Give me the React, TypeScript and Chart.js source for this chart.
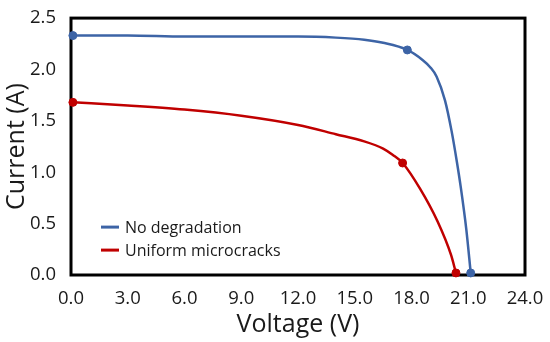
import React, { useEffect, useRef } from "react";
import { Chart, registerables } from "chart.js";

Chart.register(...registerables);

// ---- data ----
const noDegVoltage = [0.1, 3, 6, 9, 12, 14, 15.5, 16.5, 17.78, 18.6, 19.0, 19.33, 19.77, 20.12, 20.4, 20.6, 20.9, 21.13];
const noDegCurrent = [2.33, 2.33, 2.32, 2.32, 2.32, 2.31, 2.29, 2.26, 2.19, 2.09, 2.02, 1.93, 1.7, 1.4, 1.1, 0.86, 0.44, 0.02];
const noDegKeyVoltage = [0.1, 17.78, 21.13];
const noDegKeyCurrent = [2.33, 2.19, 0.02];

const crackVoltage = [0.1, 3, 6, 9, 12, 14, 15.5, 16.5, 17, 17.53, 18.45, 19.38, 20.09, 20.35];
const crackCurrent = [1.68, 1.65, 1.61, 1.55, 1.46, 1.37, 1.3, 1.23, 1.17, 1.09, 0.84, 0.52, 0.195, 0.02];
const crackKeyVoltage = [0.1, 17.53, 20.35];
const crackKeyCurrent = [1.68, 1.09, 0.02];

const seriesLabels = ["No degradation", "Uniform microcracks"];
const xTitle = "Voltage (V)";
const yTitle = "Current (A)";
const xMin = 0, xMax = 24, xStep = 3;
const yMin = 0, yMax = 2.5, yStep = 0.5;

const BLUE = "#3d64a6";
const RED = "#c00000";
const FONT = "'Open Sans', sans-serif";

const zip = (xs: number[], ys: number[]) => xs.map((x, i) => ({ x, y: ys[i] }));

const borderPlugin = {
  id: "frame",
  beforeDatasetsDraw(chart: any) {
    const { ctx, chartArea: a } = chart;
    ctx.save();
    ctx.strokeStyle = "#000";
    ctx.lineWidth = 3;
    ctx.strokeRect(a.left, a.top, a.right - a.left, a.bottom - a.top);
    ctx.restore();
  },
};

const legendPlugin = {
  id: "innerLegend",
  afterDatasetsDraw(chart: any) {
    const { ctx, chartArea: a } = chart;
    const colors = [BLUE, RED];
    ctx.save();
    ctx.font = `16px ${FONT}`;
    ctx.textBaseline = "middle";
    seriesLabels.forEach((lab, i) => {
      const y = a.top + 209 + i * 23;
      const x0 = a.left + 30;
      ctx.strokeStyle = colors[i];
      ctx.lineWidth = 3;
      ctx.beginPath();
      ctx.moveTo(x0, y);
      ctx.lineTo(x0 + 18, y);
      ctx.stroke();
      ctx.fillStyle = "#1a1a1a";
      ctx.fillText(lab, x0 + 24, y + 1);
    });
    ctx.restore();
  },
};

export default function App() {
  const ref = useRef<HTMLCanvasElement | null>(null);
  useEffect(() => {
    document.body.style.margin = "0";
    if (!ref.current) return;
    const chart = new Chart(ref.current, {
      type: "scatter",
      data: {
        datasets: [
          {
            label: seriesLabels[0],
            data: zip(noDegVoltage, noDegCurrent),
            showLine: true,
            borderColor: BLUE,
            borderWidth: 2.5,
            pointRadius: 0,
            cubicInterpolationMode: "monotone",
          },
          {
            label: seriesLabels[1],
            data: zip(crackVoltage, crackCurrent),
            showLine: true,
            borderColor: RED,
            borderWidth: 2.5,
            pointRadius: 0,
            cubicInterpolationMode: "monotone",
          },
          {
            label: seriesLabels[0] + " key points",
            data: zip(noDegKeyVoltage, noDegKeyCurrent),
            showLine: false,
            backgroundColor: BLUE,
            borderColor: BLUE,
            pointRadius: 4,
            clip: false as any,
          },
          {
            label: seriesLabels[1] + " key points",
            data: zip(crackKeyVoltage, crackKeyCurrent),
            showLine: false,
            backgroundColor: RED,
            borderColor: RED,
            pointRadius: 4,
            clip: false as any,
          },
        ],
      },
      options: {
        animation: false,
        responsive: false,
        maintainAspectRatio: false,
        layout: { padding: { top: 18, right: 25, left: 0, bottom: 0 } },
        plugins: { legend: { display: false }, tooltip: { enabled: false } },
        scales: {
          x: {
            type: "linear",
            min: xMin,
            max: xMax,
            grid: { display: false },
            border: { display: false },
            ticks: {
              stepSize: xStep,
              padding: 5,
              color: "#1a1a1a",
              font: { family: FONT, size: 18.5 },
              callback: (v: any) => Number(v).toFixed(1),
            },
            title: {
              display: true,
              text: xTitle,
              color: "#1a1a1a",
              font: { family: FONT, size: 25 },
              padding: { top: 0, bottom: 2 },
            },
            afterFit: (s: any) => { s.height = 67; },
          },
          y: {
            type: "linear",
            min: yMin,
            max: yMax,
            grid: { display: false },
            border: { display: false },
            ticks: {
              stepSize: yStep,
              padding: 7,
              color: "#1a1a1a",
              font: { family: FONT, size: 18.5 },
              callback: (v: any) => Number(v).toFixed(1),
            },
            title: {
              display: true,
              text: yTitle,
              color: "#1a1a1a",
              font: { family: FONT, size: 25 },
              padding: { top: 2, bottom: 0 },
            },
            afterFit: (s: any) => { s.width = 71; },
          },
        },
      },
      plugins: [borderPlugin, legendPlugin],
    });
    return () => chart.destroy();
  }, []);
  return (
    <div style={{ width: 550, height: 342 }}>
      <canvas ref={ref} width={550} height={342} style={{ display: "block" }} />
    </div>
  );
}
